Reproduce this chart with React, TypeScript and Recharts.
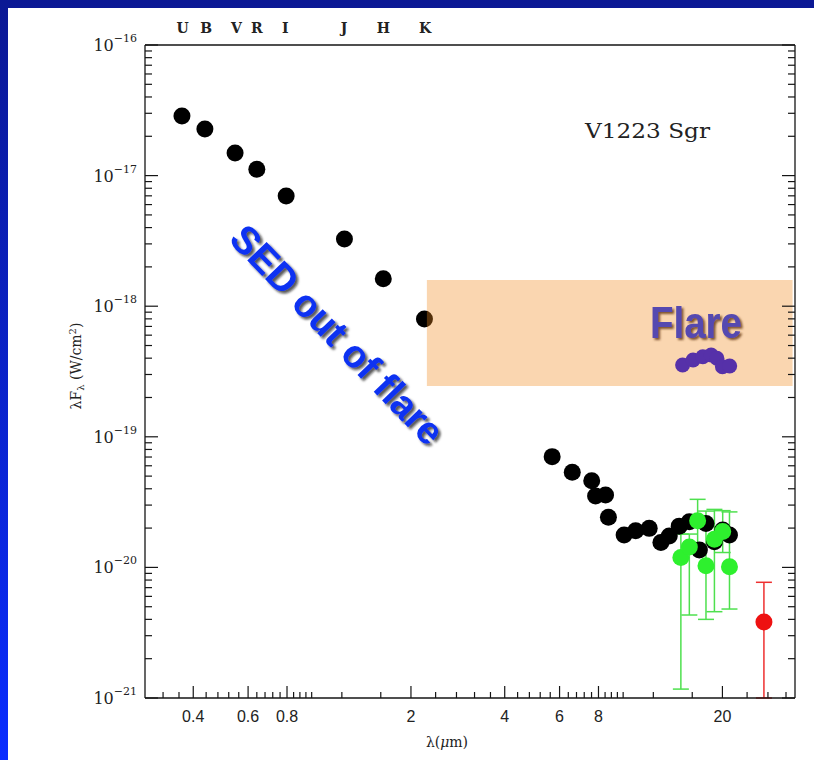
import React from 'react';
import { ScatterChart, Scatter, XAxis, YAxis, ErrorBar, ReferenceArea, ReferenceLine } from 'recharts';

// quiet-state photometry (black)
const QUIET_LAMBDA = [0.368, 0.436, 0.545, 0.64, 0.795, 1.223, 1.63, 2.21, 5.68, 6.59, 7.61, 7.83, 8.43, 8.61, 9.67, 10.53, 11.64, 12.69, 13.5, 14.53, 15.66, 16.87, 17.71, 18.85, 20.04, 21.07];
const QUIET_FLUX = [2.86e-17, 2.27e-17, 1.49e-17, 1.12e-17, 6.98e-18, 3.27e-18, 1.62e-18, 7.98e-19, 7.05e-20, 5.35e-20, 4.61e-20, 3.52e-20, 3.58e-20, 2.42e-20, 1.77e-20, 1.91e-20, 1.99e-20, 1.55e-20, 1.74e-20, 2.07e-20, 2.24e-20, 1.36e-20, 2.17e-20, 1.57e-20, 1.93e-20, 1.77e-20];

// mid-IR points with error bars (green)
const MIR_LAMBDA = [14.71, 15.66, 16.65, 17.71, 18.85, 20.04, 21.07];
const MIR_FLUX = [1.19e-20, 1.43e-20, 2.28e-20, 1.03e-20, 1.64e-20, 1.88e-20, 1.01e-20];
const MIR_LOW = [1.17e-21, 4.32e-21, 1.45e-20, 4.0e-21, 4.58e-21, 1.3e-20, 4.8e-21];
const MIR_HIGH = [1.8e-20, 1.8e-20, 3.32e-20, 2.7e-20, 2.78e-20, 2.72e-20, 2.66e-20];

// long-wavelength point (red)
const FIR_LAMBDA = [27.18];
const FIR_FLUX = [3.82e-21];
const FIR_LOW = [1.0e-21];
const FIR_HIGH = [7.69e-21];

// flare spectrum (purple)
const FLARE_LAMBDA = [14.9, 16.1, 17.3, 18.4, 19.2, 20.0, 21.1];
const FLARE_FLUX = [3.55e-19, 3.87e-19, 4.1e-19, 4.23e-19, 3.99e-19, 3.44e-19, 3.48e-19];

const BANDS = ['U', 'B', 'V', 'R', 'I', 'J', 'H', 'K'];
const BAND_LAMBDA = [0.37, 0.44, 0.55, 0.64, 0.79, 1.22, 1.63, 2.22];

const X_LABELS = [0.4, 0.6, 0.8, 2, 4, 6, 8, 20];
const Y_EXPONENTS = [-21, -20, -19, -18, -17, -16];

const X_DOMAIN = [0.28, 34.2];
const Y_DOMAIN = [1e-21, 1e-16];

// log ticks: step 0.04 / 0.4 / 4 per decade
const xTicks: number[] = [];
for (let k = 8; k <= 24; k++) xTicks.push(+(k * 0.04).toFixed(2));
for (let k = 3; k <= 24; k++) xTicks.push(+(k * 0.4).toFixed(1));
for (let k = 3; k <= 8; k++) xTicks.push(k * 4);

const yTicks: number[] = [];
Y_EXPONENTS.forEach((e) => {
  for (let m = 1; m <= 9; m++) {
    if (e === -16 && m > 1) break;
    yTicks.push(Number(`${m}e${e}`));
  }
});

const isXMajor = (v: number) => X_LABELS.some((l) => Math.abs(l - v) < 1e-6);
const isYMajor = (v: number) => {
  const l = Math.log10(v);
  return Math.abs(l - Math.round(l)) < 1e-6;
};

const pairs = (xs: number[], ys: number[]) => xs.map((x, i) => ({ x, y: ys[i] }));
const withErr = (xs: number[], ys: number[], lo: number[], hi: number[]) =>
  xs.map((x, i) => ({ x, y: ys[i], err: [ys[i] - lo[i], hi[i] - ys[i]] }));

const quietData = pairs(QUIET_LAMBDA, QUIET_FLUX);
const mirData = withErr(MIR_LAMBDA, MIR_FLUX, MIR_LOW, MIR_HIGH);
const firData = withErr(FIR_LAMBDA, FIR_FLUX, FIR_LOW, FIR_HIGH);
const flareData = pairs(FLARE_LAMBDA, FLARE_FLUX);

const SERIF = "'DejaVu Serif', serif";
const SANS = "'Liberation Sans', Arial, sans-serif";
const INK = '#151515';

const dot = (r: number, fill: string) => (p: any) => <circle cx={p.cx} cy={p.cy} r={r} fill={fill} />;

const BottomTick = (p: any) => {
  const v = p.payload.value;
  const major = isXMajor(v);
  return (
    <g>
      <line x1={p.x} x2={p.x} y1={p.y} y2={p.y - (major ? 12 : 6)} stroke={INK} strokeWidth={1.2} />
      {major && (
        <text x={p.x} y={p.y + 24} textAnchor="middle" fontFamily={SANS} fontSize={16} fill="#222">
          {v}
        </text>
      )}
    </g>
  );
};

const TopTick = (p: any) => {
  const major = isXMajor(p.payload.value);
  return <line x1={p.x} x2={p.x} y1={p.y} y2={p.y + (major ? 12 : 6)} stroke={INK} strokeWidth={1.2} />;
};

const LeftTick = (p: any) => {
  const v = p.payload.value;
  const major = isYMajor(v);
  return (
    <g>
      <line x1={p.x} x2={p.x + (major ? 13 : 7)} y1={p.y} y2={p.y} stroke={INK} strokeWidth={1.2} />
      {major && (
        <text x={p.x - 8} y={p.y + 6} textAnchor="end" fontFamily={SERIF} fontSize={16} fill="#222">
          10
          <tspan dy={-9} fontSize={11}>
            {'\u2212' + String(-Math.round(Math.log10(v)))}
          </tspan>
        </text>
      )}
    </g>
  );
};

const RightTick = (p: any) => {
  const major = isYMajor(p.payload.value);
  return <line x1={p.x} x2={p.x - (major ? 13 : 7)} y1={p.y} y2={p.y} stroke={INK} strokeWidth={1.2} />;
};

const axisLine = { stroke: INK, strokeWidth: 1.3 };

export default function App() {
  return (
    <div
      style={{
        position: 'absolute',
        left: 0,
        top: 0,
        width: 814,
        height: 760,
        background: 'linear-gradient(#0b1894, #0a2dff)',
        overflow: 'hidden',
      }}
    >
      <div style={{ position: 'absolute', left: 8, top: 8, right: 0, bottom: 0, background: '#fff' }} />
      <div style={{ position: 'absolute', left: 0, top: 0 }}>
        <ScatterChart width={814} height={760} margin={{ top: 15, right: 9, bottom: 22, left: 75 }}>
          <XAxis
            dataKey="x"
            type="number"
            scale="log"
            domain={X_DOMAIN}
            allowDataOverflow
            ticks={xTicks}
            interval={0}
            height={40}
            tickSize={0}
            tickMargin={0}
            tickLine={false}
            axisLine={axisLine}
            tick={BottomTick}
          />
          <XAxis
            xAxisId="top"
            orientation="top"
            type="number"
            scale="log"
            domain={X_DOMAIN}
            allowDataOverflow
            ticks={xTicks}
            interval={0}
            height={30}
            tickSize={0}
            tickMargin={0}
            tickLine={false}
            axisLine={axisLine}
            tick={TopTick}
          />
          <YAxis
            dataKey="y"
            type="number"
            scale="log"
            domain={Y_DOMAIN}
            allowDataOverflow
            ticks={yTicks}
            interval={0}
            width={70}
            tickSize={0}
            tickMargin={0}
            tickLine={false}
            axisLine={axisLine}
            tick={LeftTick}
          />
          <YAxis
            yAxisId="right"
            orientation="right"
            type="number"
            scale="log"
            domain={Y_DOMAIN}
            allowDataOverflow
            ticks={yTicks}
            interval={0}
            width={10}
            tickSize={0}
            tickMargin={0}
            tickLine={false}
            axisLine={axisLine}
            tick={RightTick}
          />

          {BANDS.map((b, i) => (
            <ReferenceLine
              key={b}
              x={BAND_LAMBDA[i]}
              stroke="none"
              label={{ value: b, position: 'top', offset: 12, fill: '#222', fontSize: 14, fontWeight: 700, fontFamily: SERIF }}
            />
          ))}

          <Scatter data={quietData} fill="#000" shape={dot(8.5, '#000')} isAnimationActive={false} />

          <ReferenceArea
            x1={2.25}
            x2={33.6}
            y1={2.45e-19}
            y2={1.59e-18}
            fill="#f08a1e"
            fillOpacity={0.35}
            stroke="none"
            zIndex={650}
          />

          <Scatter data={flareData} fill="#5631a9" shape={dot(7.5, '#5631a9')} isAnimationActive={false} zIndex={700} />

          <Scatter data={mirData} fill="#2ef02e" shape={dot(8.5, '#2ef02e')} isAnimationActive={false} zIndex={700}>
            <ErrorBar dataKey="err" direction="y" width={8} stroke="#4ee04e" strokeWidth={1.5} />
          </Scatter>

          <Scatter data={firData} fill="#ee1111" shape={dot(8.5, '#ee1111')} isAnimationActive={false} zIndex={700}>
            <ErrorBar dataKey="err" direction="y" width={8} stroke="#ee3030" strokeWidth={1.5} />
          </Scatter>
        </ScatterChart>
      </div>

      <svg width={814} height={760} style={{ position: 'absolute', left: 0, top: 0, pointerEvents: 'none' }}>
        <defs>
          <filter id="darkShadow" x="-10%" y="-10%" width="130%" height="130%">
            <feDropShadow dx={2.5} dy={2.5} stdDeviation={0.8} floodColor="#111" floodOpacity={0.7} />
          </filter>
          <filter id="brownShadow" x="-10%" y="-10%" width="130%" height="130%">
            <feDropShadow dx={2} dy={2} stdDeviation={0.8} floodColor="#6a3c12" floodOpacity={0.85} />
          </filter>
        </defs>

        <text x={585} y={138} fontFamily={SERIF} fontSize={21} fill="#222" textLength={125} lengthAdjust="spacingAndGlyphs">
          V1223 Sgr
        </text>

        <text transform="translate(81,366) rotate(-90)" textAnchor="middle" fontFamily={SERIF} fontSize={14} fill="#222">
          λF
          <tspan fontSize={10} dy={3}>λ</tspan>
          <tspan dy={-3}> (W/cm</tspan>
          <tspan fontSize={10} dy={-5}>2</tspan>
          <tspan dy={5}>)</tspan>
        </text>

        <text x={447} y={747} textAnchor="middle" fontFamily={SERIF} fontSize={14} fill="#222">
          λ(<tspan fontStyle="italic">μ</tspan>m)
        </text>

        <g filter="url(#darkShadow)">
          <g transform="translate(337,335) rotate(46)">
            <text y={13} textAnchor="middle" fontFamily={SANS} fontWeight={700} fontSize={39} fill="#0b30f2" textLength={288} lengthAdjust="spacingAndGlyphs">
              SED out of flare
            </text>
          </g>
        </g>

        <g filter="url(#brownShadow)">
          <text x={696} y={338} textAnchor="middle" fontFamily={SANS} fontWeight={700} fontSize={45} fill="#5548b0" textLength={92} lengthAdjust="spacingAndGlyphs">
            Flare
          </text>
        </g>
      </svg>
    </div>
  );
}
